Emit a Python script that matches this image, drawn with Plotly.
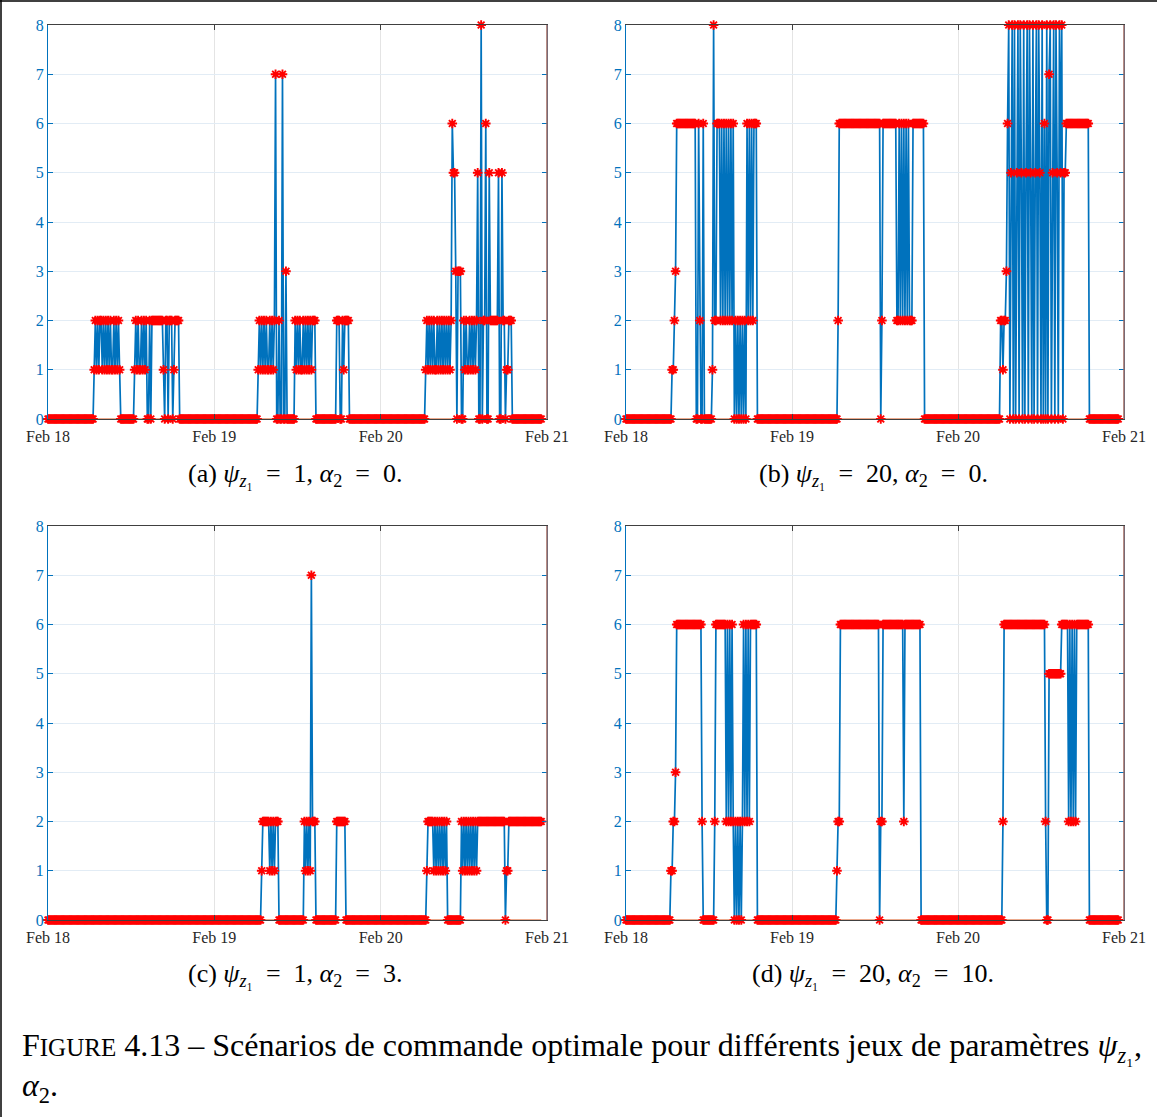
import pandas as pd
import plotly.graph_objects as go

W, H = 1157, 1117

# commande optimale u(t), un pas de 10 min à partir du 18 fév. 00:00
start = "2019-02-18 00:00"
step = "10min"

u_a = ("0" * 40 + "12121221212121211212121" + "0" * 12 + "12121121212"
       + "0020" + "2222222222" + "10220222012222" + "0" * 68
       + "121212121121212" + "7002007003" + "0" * 7
       + "212121121212121222" + "0" * 18 + "22200212222" + "0" * 66
       + "12121212112121212121212" + "6553033300" + "212112121212"
       + "50080226005" + "2222222" + "500522011222" + "0" * 26)

u_b = ("0" * 40 + "1123" + "6" * 17 + "0062006" + "0" * 7 + "1822" + "666"
       + "262626262626" + "02020202020" + "6262626" + "66" + "0" * 70
       + "2" + "6" * 36 + "02" + "6" * 12 + "22626262626222" + "6" * 10
       + "0" * 66 + "2212236"
       + "8058080580850805808508058085080" + "6080780" + "580850858"
       + "055" + "6" * 20 + "0" * 26)

u_c = ("0" * 185 + "122222212121222" + "0" * 22 + "2121217222" + "0" * 18
       + "2" * 8 + "0" * 70 + "12222" + "212121212121" + "2" + "0" * 12
       + "212121212121212" + "2" * 23 + "011" + "2" * 29)

u_d = ("0" * 39 + "11223" + "6" * 22 + "2" + "0" * 10 + "2" + "6" * 9
       + "2626262" + "02020202" + "626262666666" + "0" * 69 + "122"
       + "6" * 34 + "022" + "6" * 18 + "2" + "6" * 14 + "0" * 71 + "2"
       + "6" * 36 + "200" + "5" * 11 + "6" * 6 + "2626262" + "6" * 11
       + "0" * 26)

series = [u_a, u_b, u_c, u_d]
EQ = "\u2002=\u2002"
PSI = "<i>ψ</i><sub><i>z</i>₁</sub>"
ALPHA = "<i>α</i><sub>2</sub>"
captions = [
    f"(a) {PSI}{EQ}1, {ALPHA}{EQ}0.",
    f"(b) {PSI}{EQ}20, {ALPHA}{EQ}0.",
    f"(c) {PSI}{EQ}1, {ALPHA}{EQ}3.",
    f"(d) {PSI}{EQ}20, {ALPHA}{EQ}10.",
]
days = pd.to_datetime(["2019-02-18", "2019-02-19", "2019-02-20", "2019-02-21"])
day_labels = ["Feb 18", "Feb 19", "Feb 20", "Feb 21"]

# pixel boxes of the four plot areas (left, right, top, bottom)
boxes = [(48, 547, 25, 419), (626, 1124, 25, 419),
         (48, 547, 526, 920), (626, 1124, 526, 920)]
cap_pos = [(295, 475), (873, 475), (295, 975), (873, 975)]

BLUE = "#0072BD"
SERIF = "Liberation Serif"

fig = go.Figure()
shapes = []
annotations = []

for k, (u, (l, r, t, b)) in enumerate(zip(series, boxes), start=1):
    vals = [int(c) for c in u]
    tt = pd.date_range(start, periods=len(vals), freq=step)
    xa = "x" if k == 1 else f"x{k}"
    ya = "y" if k == 1 else f"y{k}"

    fig.add_trace(go.Scatter(x=[tt[0], tt[-1]], y=[0, 0], mode="lines",
                             line=dict(color="#D95319", width=1),
                             xaxis=xa, yaxis=ya, showlegend=False,
                             hoverinfo="skip"))
    fig.add_trace(go.Scatter(x=tt, y=vals, mode="lines+markers",
                             line=dict(color=BLUE, width=1.7),
                             marker=dict(symbol="asterisk-open", size=8,
                                         color="red",
                                         line=dict(color="red", width=1.9)),
                             cliponaxis=False,
                             xaxis=xa, yaxis=ya, showlegend=False))

    xkey = "xaxis" if k == 1 else f"xaxis{k}"
    ykey = "yaxis" if k == 1 else f"yaxis{k}"
    fig.layout[xkey] = dict(
        domain=[l / W, r / W], anchor=ya, type="date",
        range=[days[0], days[-1]], tickvals=days, ticktext=day_labels,
        showgrid=True, gridcolor="#e4e4e4", gridwidth=1,
        showline=True, linecolor="#404040", linewidth=1, mirror="ticks",
        ticks="inside", ticklen=5, tickcolor="#404040",
        ticklabelstandoff=3,
        tickfont=dict(family=SERIF, size=16, color="#262626"),
        zeroline=False, fixedrange=True)
    fig.layout[ykey] = dict(
        domain=[1 - b / H, 1 - t / H], anchor=xa,
        range=[0, 8], dtick=1, tick0=0,
        showgrid=True, gridcolor="#e2ecf5", gridwidth=1,
        showline=True, linecolor=BLUE, linewidth=1, mirror="ticks",
        ticks="inside", ticklen=5, tickcolor=BLUE,
        tickfont=dict(family=SERIF, size=16, color=BLUE),
        zeroline=False, fixedrange=True)

    # right axis of the yyaxis pair
    shapes.append(dict(type="line", xref="paper", yref="paper",
                       x0=r / W, x1=r / W, y0=1 - b / H, y1=1 - t / H,
                       line=dict(color="#a0675c", width=1.5), layer="above"))

    cx, cy = cap_pos[k - 1]
    annotations.append(dict(text=captions[k - 1], x=cx / W, y=1 - cy / H,
                            xref="paper", yref="paper", showarrow=False,
                            xanchor="center", yanchor="middle",
                            font=dict(family=SERIF, size=26, color="black")))

# figure caption
annotations.append(dict(
    text=("F<span style='font-size:25px'>IGURE</span> 4.13 – Scénarios de "
          "commande optimale pour différents jeux de paramètres "
          f"{PSI},"),
    x=20 / W, y=1 - 1047 / H, xref="paper", yref="paper", showarrow=False,
    xanchor="left", yanchor="middle",
    font=dict(family=SERIF, size=32, color="black")))
annotations.append(dict(
    text=f"{ALPHA}.",
    x=20 / W, y=1 - 1087 / H, xref="paper", yref="paper", showarrow=False,
    xanchor="left", yanchor="middle",
    font=dict(family=SERIF, size=32, color="black")))

# page frame (left and top edges)
shapes.append(dict(type="line", xref="paper", yref="paper",
                   x0=1 / W, x1=1 / W, y0=0, y1=1,
                   line=dict(color="black", width=1.5)))
shapes.append(dict(type="line", xref="paper", yref="paper",
                   x0=0, x1=1, y0=1 - 1 / H, y1=1 - 1 / H,
                   line=dict(color="black", width=1.5)))

fig.update_layout(width=W, height=H,
                  margin=dict(l=0, r=0, t=0, b=0, autoexpand=False),
                  paper_bgcolor="white", plot_bgcolor="white",
                  shapes=shapes, annotations=annotations)

fig.write_html("out.html", config={"displayModeBar": False},
               post_script="document.body.style.margin='0';")
